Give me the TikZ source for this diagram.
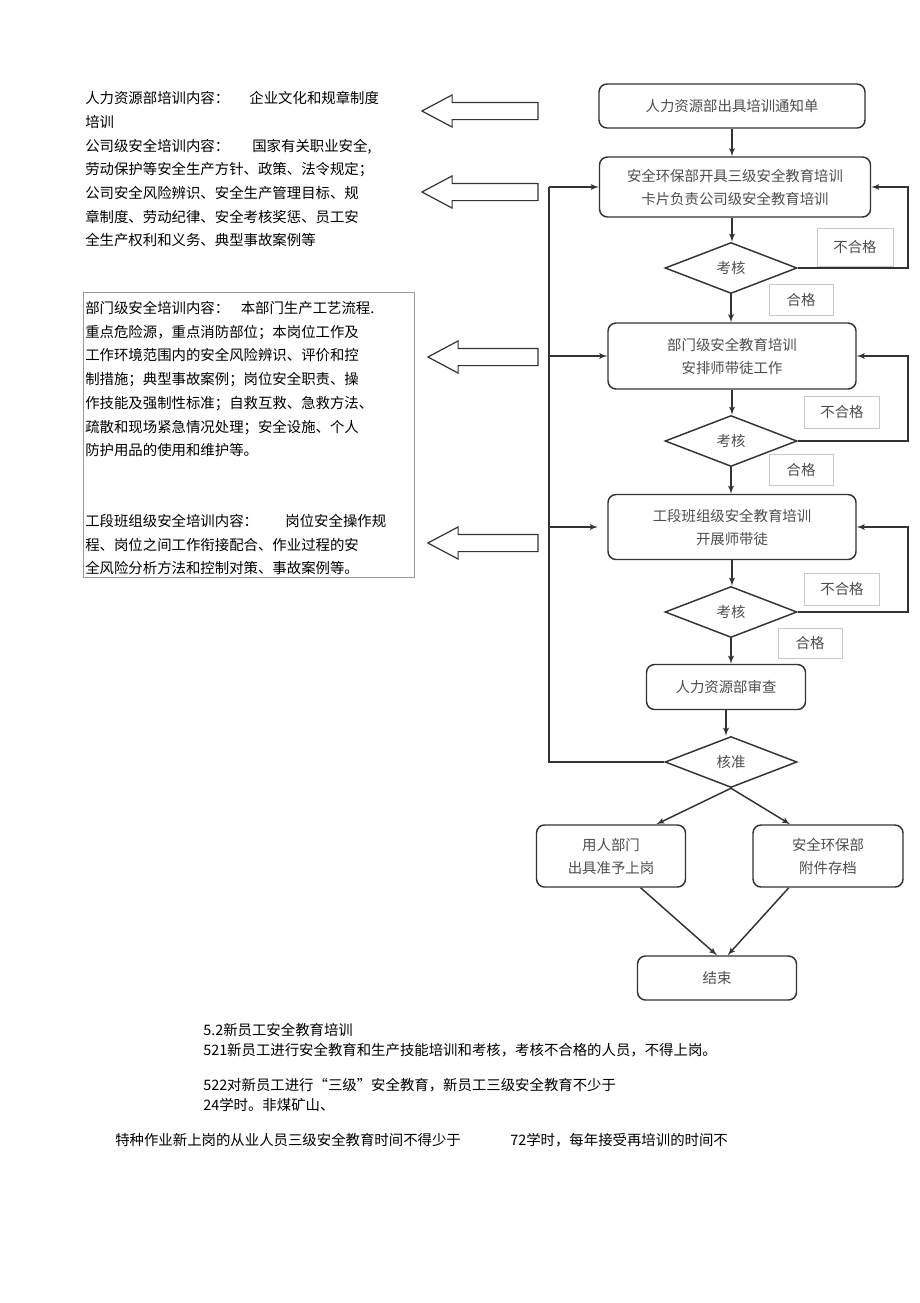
\documentclass[tikz,border=0pt]{standalone}
\usepackage{fontspec}
\setmainfont{Noto Sans CJK SC}
\usetikzlibrary{shapes,arrows,calc}
\definecolor{inkgray}{HTML}{333333}
\definecolor{txtgray}{HTML}{4D4D4D}
\definecolor{notegray}{HTML}{C8C8C8}
\definecolor{framegray}{HTML}{999999}
\tikzstyle{line} = [draw, -latex', line width=1.1pt, inkgray]
\tikzstyle{block} = [draw=inkgray, rectangle, rounded corners=6pt, line width=1.1pt, align=center, text=txtgray, inner sep=0pt]
\tikzstyle{decision} = [draw=inkgray, diamond, line width=1.1pt, minimum width=99pt, minimum height=38.25pt, inner sep=0pt, text=txtgray]
\tikzstyle{note} = [draw=notegray, rectangle, line width=0.6pt, text=txtgray, inner sep=0pt]
\tikzstyle{hollow} = [draw=inkgray, single arrow, shape border rotate=180, line width=0.9pt, inner xsep=0pt, inner ysep=6pt, single arrow head extend=5.6pt, single arrow tip angle=56]
\tikzstyle{para} = [anchor=north west, align=left, inner sep=0pt, font=\fontsize{10.8pt}{17.8pt}\selectfont]
\tikzstyle{body} = [anchor=west, inner sep=0pt]

\begin{document}
\begin{tikzpicture}[x=0.75pt, y=-0.75pt, font=\fontsize{10.8pt}{17.25pt}\selectfont]
        \useasboundingbox (0,0) rectangle (920,1303);
        % training content, left column
        \node[para] (hrtext) at (85,91) {人力资源部培训内容：\hspace{1.4em}企业文化和规章制度\\培训\\公司级安全培训内容：\hspace{1.6em}国家有关职业安全,\\劳动保护等安全生产方针、政策、法令规定；\\公司安全风险辨识、安全生产管理目标、规\\章制度、劳动纪律、安全考核奖惩、员工安\\全生产权利和义务、典型事故案例等};
        \draw[framegray, line width=0.6pt] (83,292) rectangle (414,577);
        \node[para] (depttext) at (85,301) {部门级安全培训内容：\hspace{0.8em}本部门生产工艺流程.\\重点危险源，重点消防部位；本岗位工作及\\工作环境范围内的安全风险辨识、评价和控\\制措施；典型事故案例；岗位安全职责、操\\作技能及强制性标准；自救互救、急救方法、\\疏散和现场紧急情况处理；安全设施、个人\\防护用品的使用和维护等。};
        \node[para] (teamtext) at (85,514) {工段班组级安全培训内容：\hspace{1.9em}岗位安全操作规\\程、岗位之间工作衔接配合、作业过程的安\\全风险分析方法和控制对策、事故案例等。};
        \node[hollow, minimum height=87pt] (arr1) at (488,111) {};
        \node[hollow, minimum height=87pt] (arr2) at (488,192) {};
        \node[hollow, minimum height=82.5pt] (arr3) at (491,357) {};
        \node[hollow, minimum height=82.5pt] (arr4) at (491,543) {};
        % flow chart
        \node[block, minimum width=199.5pt, minimum height=33pt] (notice) at (732,106) {人力资源部出具培训通知单};
        \node[block, minimum width=203.25pt, minimum height=45pt] (card) at (735,187) {安全环保部开具三级安全教育培训\\卡片负责公司级安全教育培训};
        \node[decision] (chk1) at (731,268) {考核};
        \node[note, minimum width=57pt, minimum height=28.5pt] (fail1) at (855,247) {不合格};
        \node[note, minimum width=48pt, minimum height=23.25pt] (pass1) at (801,300) {合格};
        \node[block, minimum width=186pt, minimum height=49.5pt] (dept) at (732,356) {部门级安全教育培训\\安排师带徒工作};
        \node[decision] (chk2) at (731,441) {考核};
        \node[note, minimum width=56.25pt, minimum height=24pt] (fail2) at (842,412) {不合格};
        \node[note, minimum width=48pt, minimum height=23.25pt] (pass2) at (801,470) {合格};
        \node[block, minimum width=186pt, minimum height=48.75pt] (team) at (732,527) {工段班组级安全教育培训\\开展师带徒};
        \node[decision] (chk3) at (731,612) {考核};
        \node[note, minimum width=56.25pt, minimum height=24pt] (fail3) at (842,589) {不合格};
        \node[note, minimum width=48pt, minimum height=22.5pt] (pass3) at (810,643) {合格};
        \node[block, minimum width=119.25pt, minimum height=33.75pt] (review) at (726,687) {人力资源部审查};
        \node[decision] (approve) at (731,762) {核准};
        \node[block, minimum width=111.75pt, minimum height=46.5pt] (hire) at (611,856) {用人部门\\出具准予上岗};
        \node[block, minimum width=112.5pt, minimum height=46.5pt] (archive) at (828,856) {安全环保部\\附件存档};
        \node[block, minimum width=119.25pt, minimum height=33pt] (finish) at (717,978) {结束};
        \coordinate (lloop) at (549,0);
        \coordinate (rloop) at (908,0);
        \path[line] (notice) -- (notice |- card.north);
        \path[line] (card.south -| notice) -- (notice |- chk1.north);
        \path[line] (chk1) -- (chk1 |- dept.north);
        \path[line] (dept) -- (dept |- chk2.north);
        \path[line] (chk2) -- (chk2 |- team.north);
        \path[line] (team) -- (team |- chk3.north);
        \path[line] (chk3) -- (chk3 |- review.north);
        \path[line] (review.south) -- (review.south |- approve.north);
        \path[line] (chk1.east) -- (chk1.east -| rloop) |- (card.east);
        \path[line] (chk2.east) -- (chk2.east -| rloop) |- (dept.east);
        \path[line] (chk3.east) -- (chk3.east -| rloop) |- (team.east);
        \path[line, -] (approve.west) -| (card.west -| lloop);
        \path[line] (card.west -| lloop) -- (card.west);
        \path[line] (dept.west -| lloop) -- (dept.west);
        \path[line, shorten >=7pt] (team.west -| lloop) -- (team.west);
        \path[line] (approve.south) -- (hire.35);
        \path[line] (approve.south) -- (archive.140);
        \path[line] (hire.-47) -- (finish.north);
        \path[line] (archive.-141) -- (finish.65);
        % text below the chart
        \node[body] (sec) at (203,1030) {5.2新员工安全教育培训};
        \node[body] (item1) at (203,1050) {521新员工进行安全教育和生产技能培训和考核，考核不合格的人员，不得上岗。};
        \node[body] (item2) at (203,1085) {522对新员工进行“三级”安全教育，新员工三级安全教育不少于};
        \node[body] (item2b) at (203,1105) {24学时。非煤矿山、};
        \node[body] (item3) at (115,1140) {特种作业新上岗的从业人员三级安全教育时间不得少于};
        \node[body] (item3b) at (510,1140) {72学时，每年接受再培训的时间不};
    \end{tikzpicture}
\end{document}
